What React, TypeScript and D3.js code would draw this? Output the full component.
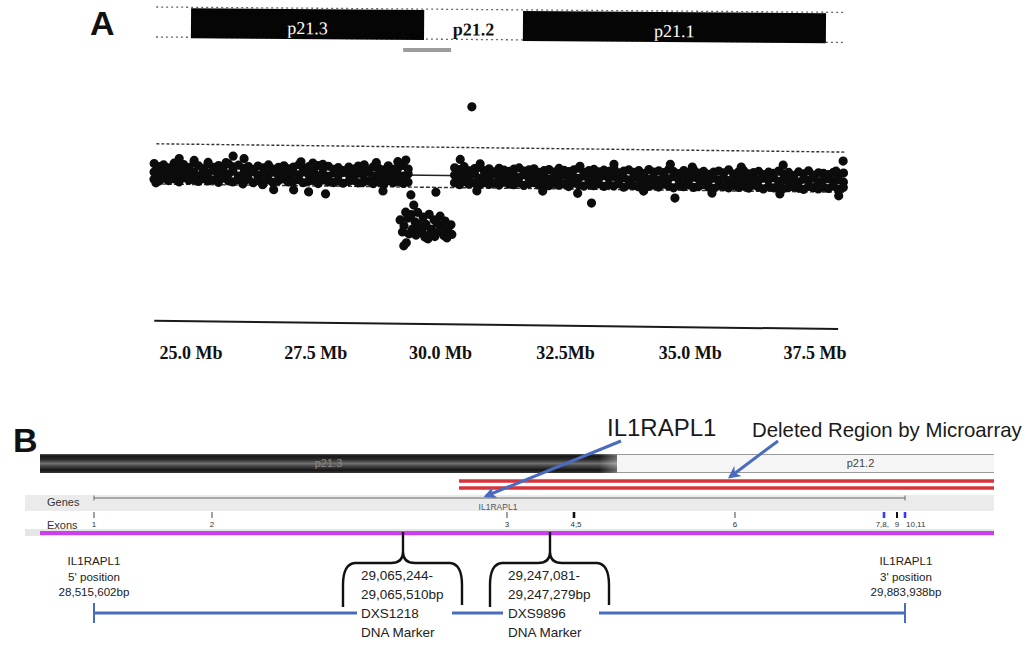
import React from 'react';
import * as d3 from 'd3';

const W = 1033;
const H = 647;

// ---------- Panel A data ----------
const tickMb = [25.0, 27.5, 30.0, 32.5, 35.0, 37.5];
const tickLabels = ['25.0 Mb', '27.5 Mb', '30.0 Mb', '32.5Mb', '35.0 Mb', '37.5 Mb'];
const bandNamesA = ['p21.3', 'p21.2', 'p21.1'];
const bandStartsA = [25.0, 29.67, 31.65];
const bandEndsA = [29.67, 31.65, 37.72];
const bandStainA = ['dark', 'light', 'dark'];
const ideogramSpanMb = [24.3, 38.12];
const deletionBarMb = [29.25, 30.21];
const upperThreshold = 0.47;
const lowerThreshold = -0.2;
const segmentMean = 0.0;
const axisLevel = -2.48;

// [position Mb, log2 values read at that position...]
const bandRows: number[][] = [
  [24.26, 0.14, 0.0, -0.12], [24.36, 0.09, -0.03, -0.15], [24.45, 0.12, 0.02, -0.1], [24.55, 0.07, -0.05, -0.14],
  [24.66, 0.15, 0.01, -0.11], [24.76, 0.1, -0.02, -0.16], [24.85, 0.13, 0.03, -0.09], [24.96, 0.08, -0.04, -0.13],
  [25.06, 0.16, 0.0, -0.12], [25.15, 0.11, -0.06, -0.15], [25.25, 0.06, 0.02, -0.1], [25.34, 0.14, -0.01, -0.14],
  [25.45, 0.09, 0.04, -0.12], [25.55, 0.12, -0.03, -0.16], [25.64, 0.07, 0.01, -0.09], [25.75, 0.15, -0.02, -0.13],
  [25.84, 0.1, 0.03, -0.15], [25.95, 0.13, -0.05, -0.11], [26.06, 0.08, 0.0, -0.14], [26.15, 0.11, -0.02, -0.1],
  [26.25, 0.06, 0.03, -0.16], [26.34, 0.12, -0.04, -0.12], [26.45, 0.09, 0.01, -0.14], [26.55, 0.14, -0.01, -0.11],
  [26.64, 0.07, 0.02, -0.15], [26.75, 0.1, -0.03, -0.12], [26.86, 0.13, 0.0, -0.09], [26.95, 0.08, -0.05, -0.14],
  [27.05, 0.11, 0.02, -0.13], [27.16, 0.15, -0.02, -0.1], [27.25, 0.09, 0.03, -0.15], [27.36, 0.12, -0.01, -0.12],
  [27.45, 0.07, 0.04, -0.11], [27.55, 0.14, -0.03, -0.16], [27.64, 0.1, 0.01, -0.1], [27.75, 0.13, -0.04, -0.13],
  [27.86, 0.08, 0.02, -0.14], [27.95, 0.11, -0.02, -0.11], [28.05, 0.06, 0.03, -0.15], [28.16, 0.12, 0.0, -0.12],
  [28.26, 0.09, -0.05, -0.1], [28.35, 0.14, 0.02, -0.14], [28.45, 0.1, -0.01, -0.13], [28.56, 0.07, 0.04, -0.11],
  [28.65, 0.13, -0.03, -0.15], [28.75, 0.11, 0.01, -0.12], [28.86, 0.08, -0.02, -0.16], [28.95, 0.15, 0.03, -0.1],
  [29.05, 0.09, -0.04, -0.13], [29.15, 0.12, 0.0, -0.11], [29.25, 0.16, -0.02, -0.14], [29.35, 0.1, 0.02, -0.12],
  [30.28, 0.13, 0.01, -0.12], [30.38, 0.1, -0.03, -0.15], [30.47, 0.15, 0.02, -0.1], [30.57, 0.08, -0.02, -0.14],
  [30.68, 0.12, 0.03, -0.12], [30.77, 0.14, -0.04, -0.16], [30.87, 0.09, 0.0, -0.11], [30.97, 0.12, -0.02, -0.14],
  [31.07, 0.07, 0.03, -0.12], [31.17, 0.13, -0.01, -0.15], [31.27, 0.1, 0.02, -0.1], [31.37, 0.08, -0.04, -0.13],
  [31.47, 0.12, 0.01, -0.14], [31.57, 0.14, -0.02, -0.11], [31.67, 0.09, 0.03, -0.15], [31.77, 0.11, -0.03, -0.12],
  [31.87, 0.13, 0.0, -0.1], [31.97, 0.07, -0.02, -0.14], [32.07, 0.1, 0.02, -0.13], [32.17, 0.12, -0.04, -0.15],
  [32.27, 0.08, 0.01, -0.11], [32.37, 0.14, -0.01, -0.14], [32.47, 0.11, 0.03, -0.12], [32.57, 0.09, -0.03, -0.16],
  [32.67, 0.12, 0.0, -0.1], [32.77, 0.15, -0.02, -0.13], [32.87, 0.08, 0.02, -0.15], [32.97, 0.11, -0.04, -0.12],
  [33.07, 0.13, 0.01, -0.14], [33.17, 0.09, -0.02, -0.11], [33.27, 0.12, 0.03, -0.15], [33.37, 0.1, -0.01, -0.12],
  [33.47, 0.15, 0.02, -0.14], [33.57, 0.08, -0.03, -0.1], [33.67, 0.11, 0.0, -0.16], [33.77, 0.13, -0.04, -0.12],
  [33.87, 0.09, 0.02, -0.13], [33.97, 0.12, -0.01, -0.15], [34.07, 0.07, 0.03, -0.11], [34.17, 0.14, -0.02, -0.14],
  [34.27, 0.1, 0.01, -0.12], [34.37, 0.12, -0.04, -0.15], [34.47, 0.09, 0.02, -0.1], [34.57, 0.15, -0.01, -0.13],
  [34.67, 0.11, 0.03, -0.16], [34.77, 0.08, -0.02, -0.12], [34.87, 0.13, 0.0, -0.14], [34.97, 0.1, -0.03, -0.11],
  [35.07, 0.14, 0.02, -0.15], [35.17, 0.09, -0.01, -0.13], [35.27, 0.12, 0.03, -0.1], [35.37, 0.07, -0.04, -0.14],
  [35.47, 0.11, 0.01, -0.16], [35.57, 0.13, -0.02, -0.12], [35.67, 0.1, 0.02, -0.13], [35.77, 0.15, -0.03, -0.15],
  [35.87, 0.08, 0.0, -0.11], [35.97, 0.12, -0.01, -0.14], [36.07, 0.14, 0.03, -0.12], [36.17, 0.09, -0.04, -0.15],
  [36.27, 0.11, 0.01, -0.1], [36.37, 0.13, -0.02, -0.13], [36.47, 0.08, 0.02, -0.16], [36.57, 0.12, -0.01, -0.12],
  [36.67, 0.1, 0.03, -0.14], [36.77, 0.14, -0.03, -0.11], [36.87, 0.09, 0.0, -0.15], [36.97, 0.12, -0.02, -0.13],
  [37.07, 0.07, 0.02, -0.12], [37.17, 0.13, -0.04, -0.14], [37.27, 0.1, 0.01, -0.16], [37.37, 0.15, -0.01, -0.11],
  [37.47, 0.08, 0.03, -0.13], [37.57, 0.12, -0.03, -0.15], [37.67, 0.11, 0.0, -0.12], [37.77, 0.09, 0.02, -0.14],
  [37.87, 0.13, -0.02, -0.1], [37.97, 0.1, 0.01, -0.15], [38.07, 0.12, -0.03, -0.12],
];

const scatterOutliers: [number, number][] = [
  [24.3, -0.18], [24.76, 0.23], [25.06, 0.2], [25.34, 0.17], [25.7, 0.17], [25.84, 0.28], [26.06, 0.24],
  [26.04, -0.18], [26.44, -0.19], [26.66, -0.27], [27.06, -0.27], [27.2, 0.2], [27.36, -0.3], [27.44, 0.18],
  [27.64, 0.16], [27.7, -0.33], [28.47, 0.16], [28.71, 0.2], [28.85, -0.27], [29.14, 0.22], [29.3, 0.25],
  [30.39, 0.27], [30.79, 0.2], [32.79, 0.18], [33.47, 0.22], [34.6, 0.23], [35.04, 0.19], [36.02, 0.2],
  [36.86, 0.24], [38.06, 0.32], [37.92, 0.15], [30.73, -0.25], [32.05, -0.24], [32.75, -0.27], [33.03, -0.43],
  [34.07, -0.22], [34.7, -0.33], [35.44, -0.24], [36.8, -0.24], [37.98, -0.26], [30.61, 1.15],
];

const deletionPoints: [number, number][] = [
  [29.41, -0.33], [29.91, -0.28], [29.47, -0.5], [29.31, -0.62], [29.2, -0.75], [29.28, -0.85], [29.35, -0.72],
  [29.42, -0.66], [29.5, -0.78], [29.55, -0.62], [29.6, -0.88], [29.66, -0.7], [29.72, -0.82], [29.78, -0.65],
  [29.83, -0.9], [29.88, -0.74], [29.94, -0.8], [30.0, -0.68], [30.05, -0.86], [30.1, -0.76], [30.16, -0.92],
  [30.22, -0.82], [29.25, -0.95], [29.38, -0.98], [29.45, -0.9], [29.52, -1.0], [29.64, -0.96], [29.7, -1.03],
  [29.8, -0.98], [29.9, -1.02], [29.98, -0.94], [30.08, -1.0], [30.14, -1.04], [30.24, -0.98], [29.58, -0.82],
  [29.33, -1.13], [29.28, -1.18], [29.76, -1.06], [29.68, -0.86], [30.02, -0.9],
];

// ---------- Panel B data ----------
const geneStartBp = 28515602;
const geneEndBp = 29883938;
const trackStartBp = 28424492;
const trackEndBp = 30034100;
const labelStartBp = 28399184;
const bandBoundaryBp = 29398018;
const deletedStartBp = 29131437;
const geneLabelBp = 29197239;
const deletionArrowBp = 29588600;
const exonLabels = ['1', '2', '3', '4,5', '6', '7,8,', '9', '10,11'];
const exonBp = [28515602, 28714694, 29212424, 29325468, 29597110, 29848506, 29870440, 29883938];
const exonKind = ['single', 'single', 'single', 'pair', 'single', 'pairAlt', 'single', 'pairAlt'];
const markerDrawnBp = [29036953, 29284974];
const markerLines = [
  ['29,065,244-', '29,065,510bp', 'DXS1218', 'DNA Marker'],
  ['29,247,081-', '29,247,279bp', 'DXS9896', 'DNA Marker'],
];
const endLabels5 = ['IL1RAPL1', "5' position", '28,515,602bp'];
const endLabels3 = ['IL1RAPL1', "3' position", '29,883,938bp'];

const SANS = "'Liberation Sans', Arial, sans-serif";
const SERIF = "'Liberation Serif', 'Times New Roman', serif";
const BLUE = '#4a6cc0';

export default function App() {
  // Panel A scales
  const xA = d3.scaleLinear().domain([25, 37.5]).range([191, 815]);
  const yA = d3.scaleLinear().domain([0, 1]).range([172, 112]);
  const rot = 0.69;
  const pivotX = xA(ideogramSpanMb[0]);
  const pivotY = yA(0);

  const points: [number, number][] = [];
  bandRows.forEach((r) => {
    for (let i = 1; i < r.length; i++) points.push([r[0], r[i]]);
  });
  scatterOutliers.forEach((p) => points.push(p));
  deletionPoints.forEach((p) => points.push(p));

  // Panel B scale
  const xB = d3.scaleLinear().domain([geneStartBp, geneEndBp]).range([94, 905]);

  const bracePath = (c: number) => {
    const top = 532, mid = 563, end = 607;
    const p = d3.path();
    p.moveTo(c, top);
    p.lineTo(c, mid - 11);
    p.quadraticCurveTo(c, mid, c - 12, mid);
    p.lineTo(c - 48, mid);
    p.quadraticCurveTo(c - 60, mid + 1, c - 60, mid + 22);
    p.lineTo(c - 60, end);
    p.moveTo(c, mid - 11);
    p.quadraticCurveTo(c, mid, c + 12, mid);
    p.lineTo(c + 47, mid);
    p.quadraticCurveTo(c + 59, mid + 1, c + 59, mid + 22);
    p.lineTo(c + 59, end - 2);
    return p.toString();
  };

  const blueY = 613;
  const bx = markerDrawnBp.map((b) => xB(b));
  const blueSegments: [number, number][] = [
    [xB(geneStartBp), bx[0] - 46],
    [bx[0] + 49, bx[1] - 47],
    [bx[1] + 49, xB(geneEndBp)],
  ];

  const exonX = exonBp.map((b) => xB(b));

  return (
    <svg width={W} height={H} style={{ position: 'absolute', left: 0, top: 0, background: '#fff' }}>
      <defs>
        <linearGradient id="darkBand" x1="0" y1="0" x2="0" y2="1">
          <stop offset="0" stopColor="#5a5a5a" />
          <stop offset="0.1" stopColor="#151515" />
          <stop offset="0.3" stopColor="#2c2c2c" />
          <stop offset="0.5" stopColor="#707070" />
          <stop offset="0.62" stopColor="#4a4a4a" />
          <stop offset="0.85" stopColor="#141414" />
          <stop offset="1" stopColor="#3a3a3a" />
        </linearGradient>
        <linearGradient id="fadeEnd" x1="0" y1="0" x2="1" y2="0">
          <stop offset="0" stopColor="#fff" stopOpacity="0" />
          <stop offset="1" stopColor="#fff" stopOpacity="0.35" />
        </linearGradient>
        <marker id="arrowBlue" viewBox="0 0 10 10" refX="8" refY="5" markerWidth="4.2" markerHeight="4.2" orient="auto" markerUnits="strokeWidth">
          <path d="M0,0 L10,5 L0,10 L3,5 z" fill={BLUE} />
        </marker>
      </defs>
      <rect x={0} y={0} width={W} height={H} fill="#fff" />

      {/* ================= Panel A ================= */}
      <text x={90} y={35} fontFamily={SANS} fontWeight="bold" fontSize={34} fill="#111">A</text>

      <g transform={`rotate(0.45, ${pivotX}, 22)`}>
        {[7, 37].map((y) => (
          <line key={y} x1={xA(ideogramSpanMb[0])} x2={xA(ideogramSpanMb[1])} y1={y} y2={y}
            stroke="#666" strokeWidth={1.3} strokeDasharray="2,3" />
        ))}
        {bandNamesA.map((n, i) => (
          <g key={n}>
            {bandStainA[i] === 'dark' && (
              <rect x={xA(bandStartsA[i])} y={8} width={xA(bandEndsA[i]) - xA(bandStartsA[i])} height={30} fill="#050505" />
            )}
            <text x={(xA(bandStartsA[i]) + xA(bandEndsA[i])) / 2} y={33} textAnchor="middle" fontFamily={SERIF}
              fontSize={18} fontWeight={bandStainA[i] === 'dark' ? 'normal' : 'bold'}
              fill={bandStainA[i] === 'dark' ? '#fff' : '#111'}>{n}</text>
          </g>
        ))}
      </g>
      <rect x={xA(deletionBarMb[0])} y={48} width={xA(deletionBarMb[1]) - xA(deletionBarMb[0])} height={4} fill="#9c9c9c" />

      <g transform={`rotate(${rot}, ${pivotX}, ${pivotY})`}>
        <line x1={xA(ideogramSpanMb[0])} x2={xA(ideogramSpanMb[1])} y1={yA(upperThreshold)} y2={yA(upperThreshold)}
          stroke="#333" strokeWidth={1.4} strokeDasharray="3,2" />
        <line x1={xA(ideogramSpanMb[0])} x2={xA(ideogramSpanMb[1])} y1={yA(lowerThreshold)} y2={yA(lowerThreshold)}
          stroke="#333" strokeWidth={1.4} strokeDasharray="4,2" />
        <line x1={xA(ideogramSpanMb[0])} x2={xA(ideogramSpanMb[1])} y1={yA(segmentMean)} y2={yA(segmentMean)}
          stroke="#222" strokeWidth={1.4} />
        {points.map((p, i) => (
          <circle key={i} cx={xA(p[0])} cy={yA(p[1])} r={4.6} fill="#0c0c0c" />
        ))}
        <line x1={xA(ideogramSpanMb[0])} x2={xA(38.0)} y1={yA(axisLevel)} y2={yA(axisLevel)} stroke="#1a1a1a" strokeWidth={2} />
      </g>
      {tickMb.map((t, i) => (
        <text key={t} x={xA(t)} y={359} textAnchor="middle" fontFamily={SERIF} fontWeight="bold" fontSize={18} fill="#111">
          {tickLabels[i]}
        </text>
      ))}

      {/* ================= Panel B ================= */}
      <text x={13} y={452} fontFamily={SANS} fontWeight="bold" fontSize={34} fill="#111">B</text>
      <text x={607} y={436} fontFamily={SANS} fontSize={24} fill="#1a1a1a">IL1RAPL1</text>
      <text x={752} y={437} fontFamily={SANS} fontSize={20.4} fill="#1a1a1a">Deleted Region by Microarray</text>

      {/* ideogram */}
      <rect x={xB(trackStartBp)} y={454} width={xB(bandBoundaryBp) - xB(trackStartBp)} height={19} fill="url(#darkBand)" />
      <rect x={xB(bandBoundaryBp) - 18} y={454} width={18} height={19} fill="url(#fadeEnd)" />
      <rect x={xB(bandBoundaryBp)} y={454} width={xB(trackEndBp) - xB(bandBoundaryBp)} height={19} fill="#f5f5f5" />
      <line x1={xB(bandBoundaryBp)} x2={xB(trackEndBp)} y1={454.5} y2={454.5} stroke="#9a9a9a" strokeWidth={1} />
      <line x1={xB(bandBoundaryBp)} x2={xB(trackEndBp)} y1={472.5} y2={472.5} stroke="#9a9a9a" strokeWidth={1} />
      <text x={(xB(trackStartBp) + xB(bandBoundaryBp)) / 2} y={467} textAnchor="middle" fontFamily={SANS} fontSize={11} fill="#8a8a8a">p21.3</text>
      <text x={(xB(bandBoundaryBp) + xB(trackEndBp)) / 2 + 55} y={467} textAnchor="middle" fontFamily={SANS} fontSize={11} fill="#444">p21.2</text>

      {/* deleted region red lines */}
      {[481, 488].map((y) => (
        <line key={y} x1={xB(deletedStartBp)} x2={xB(trackEndBp)} y1={y} y2={y} stroke="#d8333a" strokeWidth={3.6} />
      ))}

      {/* genes track */}
      <rect x={xB(labelStartBp)} y={495} width={xB(trackEndBp) - xB(labelStartBp)} height={16} fill="#ebebeb" />
      <text x={47} y={506} fontFamily={SANS} fontSize={11} fill="#333">Genes</text>
      <line x1={xB(geneStartBp)} x2={xB(geneEndBp)} y1={498} y2={498} stroke="#666" strokeWidth={1} />
      {[geneStartBp, geneEndBp].map((b) => (
        <line key={b} x1={xB(b)} x2={xB(b)} y1={495.5} y2={500.5} stroke="#666" strokeWidth={1} />
      ))}
      <text x={xB(geneLabelBp)} y={510} textAnchor="middle" fontFamily={SANS} fontSize={8.5} fill="#555">IL1RAPL1</text>

      {/* exons track */}
      <text x={47} y={529} fontFamily={SANS} fontSize={11} fill="#333">Exons</text>
      {exonBp.map((b, i) => {
        const x = exonX[i];
        const kind = exonKind[i];
        const color = kind === 'pairAlt' ? '#3a3aff' : kind === 'pair' ? '#111' : '#444';
        const w = kind === 'single' ? (i === 6 ? 2 : 1) : 2.6;
        const prevClose = i > 0 && x - exonX[i - 1] < 15;
        const nextClose = i < exonX.length - 1 && exonX[i + 1] - x < 15;
        const anchor = prevClose && nextClose ? 'middle' : nextClose ? 'end' : prevClose ? 'start' : 'middle';
        const lx = anchor === 'end' ? x + 5 : anchor === 'start' ? x + 1 : x + (kind === 'pair' ? 2 : 0);
        return (
          <g key={i}>
            <line x1={x} x2={x} y1={512} y2={518} stroke={i === 6 ? '#111' : color} strokeWidth={w} />
            <text x={lx} y={527} textAnchor={anchor} fontFamily={SANS} fontSize={8} fill="#333">{exonLabels[i]}</text>
          </g>
        );
      })}
      <rect x={xB(labelStartBp)} y={529} width={xB(trackEndBp) - xB(labelStartBp)} height={7} fill="#e6e6e6" />
      <line x1={xB(trackStartBp)} x2={xB(trackEndBp)} y1={533} y2={533} stroke="#cc3ef0" strokeWidth={4} />

      {/* callout arrows */}
      <line x1={621} y1={441} x2={xB(geneLabelBp) - 12} y2={496} stroke={BLUE} strokeWidth={3} markerEnd="url(#arrowBlue)" />
      <line x1={778} y1={441} x2={xB(deletionArrowBp)} y2={477} stroke={BLUE} strokeWidth={3} markerEnd="url(#arrowBlue)" />

      {/* braces and marker text */}
      {markerDrawnBp.map((b, i) => (
        <g key={b}>
          <path d={bracePath(xB(b))} fill="none" stroke="#111" strokeWidth={2.4} strokeLinejoin="round" />
          {markerLines[i].map((t, j) => (
            <text key={j} x={xB(b) - 42} y={580 + j * 19} fontFamily={SANS} fontSize={13.5} fill="#222">{t}</text>
          ))}
        </g>
      ))}

      {/* IL1RAPL1 span line */}
      {blueSegments.map((s, i) => (
        <line key={i} x1={s[0]} x2={s[1]} y1={blueY} y2={blueY} stroke={BLUE} strokeWidth={3} />
      ))}
      {[geneStartBp, geneEndBp].map((b) => (
        <line key={b} x1={xB(b)} x2={xB(b)} y1={603} y2={623} stroke={BLUE} strokeWidth={2} />
      ))}

      {endLabels5.map((t, j) => (
        <text key={'l' + j} x={xB(geneStartBp)} y={565 + j * 15.5} textAnchor="middle" fontFamily={SANS} fontSize={11.6} fill="#222">{t}</text>
      ))}
      {endLabels3.map((t, j) => (
        <text key={'r' + j} x={xB(geneEndBp) + 1} y={565 + j * 15.5} textAnchor="middle" fontFamily={SANS} fontSize={11.6} fill="#222">{t}</text>
      ))}
    </svg>
  );
}
